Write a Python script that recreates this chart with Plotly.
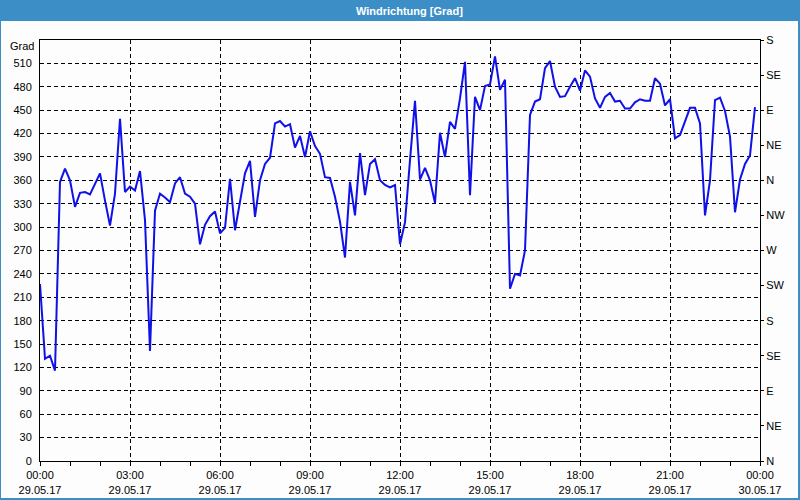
import pandas as pd
import plotly.graph_objects as go

# --- data: wind direction in degrees, 10-minute samples on 29.05.17 ---
start_time = "2017-05-29 00:00"
step = "10min"
direction_deg = [
    227, 131, 135, 116, 358, 375, 360, 326, 344, 345, 342, 356, 369, 334, 302, 343,
    439, 345, 352, 347, 372, 309, 141, 321, 343, 338, 332, 356, 364, 343, 339, 330,
    278, 303, 314, 320, 292, 299, 362, 296, 334, 369, 385, 313, 360, 381, 389, 433,
    436, 429, 432, 402, 417, 390, 423, 404, 394, 364, 363, 339, 307, 261, 358, 315,
    395, 341, 381, 387, 360, 354, 351, 354, 278, 306, 386, 462, 361, 376, 360, 331,
    421, 390, 435, 426, 465, 512, 341, 467, 450, 481, 483, 519, 476, 489, 221, 240,
    238, 270, 444, 461, 464, 504, 513, 480, 467, 468, 480, 491, 475, 501, 493, 465,
    453, 467, 472, 461, 462, 452, 452, 460, 464, 462, 462, 491, 484, 456, 464, 414,
    418, 435, 453, 453, 433, 315, 360, 463, 466, 449, 416, 319, 361, 381, 392, 454,
]
left_tick_vals = list(range(0, 511, 30))
left_tick_text = [str(v) for v in left_tick_vals]
compass_vals = list(range(0, 541, 45))
compass_text = ["N", "NE", "E", "SE", "S", "SW", "W", "NW", "N", "NE", "E", "SE", "S"]
title_text = "Windrichtung [Grad]"
unit_text = "Grad"

times = pd.date_range(start_time, periods=len(direction_deg), freq=step)

# --- layout geometry (pixels) ---
W, H = 800, 500
L, R, T, B = 40, 40, 40, 39
PW, PH = W - L - R, H - T - B


def px(x):
    return (x - L) / PW


def py(y):
    return (H - B - y) / PH


BLUE = "#3C8FC6"
BG = "#FCFDFC"
FONT = "Liberation Sans"

fig = go.Figure()
fig.add_trace(go.Scatter(
    x=times, y=direction_deg, mode="lines",
    line=dict(color="#1010E8", width=2), hoverinfo="skip", showlegend=False,
))
fig.add_trace(go.Scatter(
    x=times, y=direction_deg, mode="lines", yaxis="y2",
    line=dict(color="rgba(0,0,0,0)", width=0), opacity=0,
    hoverinfo="skip", showlegend=False,
))

fig.update_layout(
    width=W, height=H,
    margin=dict(l=L, r=R, t=T, b=B, pad=0, autoexpand=False),
    paper_bgcolor=BG, plot_bgcolor=BG,
    font=dict(family=FONT, size=11, color="#000000"),
    showlegend=False,
    xaxis=dict(
        type="date", automargin=False,
        range=["2017-05-29 00:00", "2017-05-30 00:00"],
        tick0="2017-05-29 00:00", dtick=3 * 3600000,
        tickformat="%H:%M<br>%d.%m.%y",
        ticks="outside", ticklen=4, tickcolor="#000",
        showgrid=True, gridcolor="#000", gridwidth=1, griddash="4px,3px",
        showline=True, linecolor="#000", linewidth=1, mirror=True,
        zeroline=False,
        minor=dict(dtick=3600000, ticks="outside", ticklen=4, tickcolor="#000", showgrid=False),
        tickfont=dict(family=FONT, size=11, color="#000"),
    ),
    yaxis=dict(
        range=[0, 540], automargin=False,
        tickmode="array", tickvals=left_tick_vals, ticktext=left_tick_text,
        ticks="", ticklabelstandoff=5,
        showgrid=True, gridcolor="#000", gridwidth=1, griddash="4px,3px",
        showline=True, linecolor="#000", linewidth=1, mirror=True,
        zeroline=False,
        tickfont=dict(family=FONT, size=11, color="#000"),
    ),
    yaxis2=dict(
        range=[0, 540], overlaying="y", side="right", automargin=False,
        tickmode="array", tickvals=compass_vals, ticktext=compass_text,
        ticks="outside", ticklen=3, tickcolor="#000",
        showgrid=False, zeroline=False, showline=False,
        tickfont=dict(family=FONT, size=11, color="#000"),
    ),
    shapes=[
        dict(type="rect", xref="paper", yref="paper", layer="above",
             x0=px(0), x1=px(W), y0=py(21), y1=py(0),
             fillcolor=BLUE, line=dict(width=0)),
        dict(type="rect", xref="paper", yref="paper", layer="above",
             x0=px(0), x1=px(1), y0=py(H), y1=py(0),
             fillcolor=BLUE, line=dict(width=0)),
        dict(type="rect", xref="paper", yref="paper", layer="above",
             x0=px(W - 2), x1=px(W), y0=py(H), y1=py(0),
             fillcolor=BLUE, line=dict(width=0)),
        dict(type="rect", xref="paper", yref="paper", layer="above",
             x0=px(0), x1=px(W), y0=py(H), y1=py(H - 2),
             fillcolor=BLUE, line=dict(width=0)),
    ],
    annotations=[
        dict(text="<b>" + title_text + "</b>", xref="paper", yref="paper",
             x=px(410), y=py(10.5), xanchor="center", yanchor="middle",
             showarrow=False, font=dict(family=FONT, size=11, color="#FFFFFF")),
        dict(text=unit_text, xref="paper", yref="paper",
             x=px(36), y=py(46), xanchor="right", yanchor="middle",
             showarrow=False, font=dict(family=FONT, size=11, color="#000")),
    ],
)

fig.write_html("out.html")
